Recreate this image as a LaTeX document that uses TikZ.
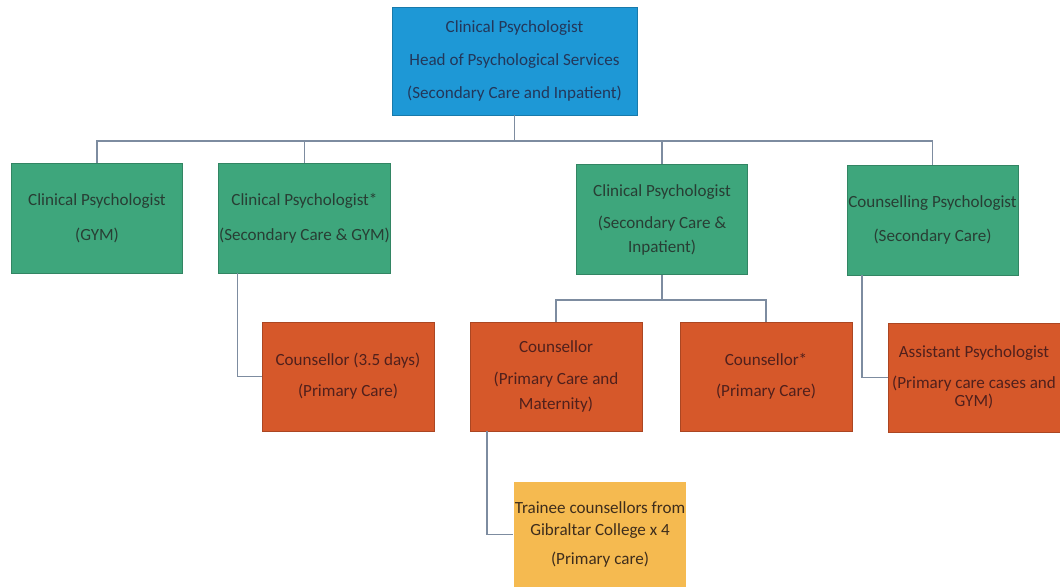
\documentclass[tikz,border=0pt]{standalone}
\usepackage{fontspec}
\setmainfont{Carlito}
\definecolor{headblue}{RGB}{30,152,214}
\definecolor{staffgreen}{RGB}{62,166,124}
\definecolor{counsorange}{RGB}{214,88,42}
\definecolor{traineeyellow}{RGB}{245,186,80}
\definecolor{linkgrey}{RGB}{125,140,160}

\begin{document}
\begin{tikzpicture}[x=0.75pt,y=0.75pt,yscale=-1,xscale=1,
  box/.style={rectangle, align=center, inner sep=0.75pt, line width=0.6pt, font=\fontsize{12.8}{15.5}\selectfont},
  headbox/.style={box, fill=headblue, draw=headblue!80!black, text={rgb,255:red,35;green,55;blue,90}, minimum width=183.75pt, minimum height=81pt},
  greenbox/.style={box, fill=staffgreen, draw=staffgreen!80!black, text={rgb,255:red,40;green,62;blue,52}, minimum width=128.25pt, minimum height=82.5pt},
  orangebox/.style={box, fill=counsorange, draw=counsorange!80!black, text={rgb,255:red,80;green,32;blue,28}, minimum width=129pt, minimum height=81.75pt},
  yellowbox/.style={box, fill=traineeyellow, text={rgb,255:red,62;green,45;blue,28}, minimum width=129pt, minimum height=78.75pt},
  link/.style={draw=linkgrey, line width=0.8pt}
]
\useasboundingbox (0,0) rectangle (1060,587);

%Shape: Rectangle [head]
\node [headbox] (head) at (514.5,61) {Clinical Psychologist\\[9pt]Head of Psychological Services\\[9pt](Secondary Care and Inpatient)};

%Shape: Rectangle [second row]
\node [greenbox] (gym) at (97,218) {Clinical Psychologist\\[10.5pt](GYM)};
\node [greenbox] (clinsec) at (304.5,218) {Clinical Psychologist*\\[10.5pt](Secondary Care \& GYM)};
\node [greenbox] (clinin) at (662,219.5) {Clinical Psychologist\\[8.5pt](Secondary Care \&\\[2.5pt]Inpatient)};
\node [greenbox] (counpsy) at (932.5,220) {Counselling Psychologist\\[10.5pt](Secondary Care)};

%Shape: Rectangle [third row]
\node [orangebox] (counsdays) at (348,376.5) {Counsellor (3.5 days)\\[7.75pt](Primary Care)};
\node [orangebox] (counsmat) at (556,376.5) {Counsellor\\[8.5pt](Primary Care and\\[3pt]Maternity)};
\node [orangebox] (counsprim) at (766,376.5) {Counsellor*\\[7.75pt](Primary Care)};
\node [orangebox] (assist) at (974,377.5) {Assistant Psychologist\\[7.5pt](Primary care cases and\\[-2pt]GYM)};

%Shape: Rectangle [trainees]
\node [yellowbox] (trainee) at (600,534.5) {Trainee counsellors from\\[1pt]Gibraltar College x 4\\[6pt](Primary care)};

%Straight Lines [connectors]
\coordinate (bus) at (514.5,141);
\coordinate (cbus) at (662,300);
\draw [link] (head.south) -- (bus);
\draw [link] (gym.north) |- (bus) -| (counpsy.north);
\draw [link] (clinsec.north) -- (clinsec.north |- bus);
\draw [link] (clinin.north) -- (clinin.north |- bus);
\draw [link] ([xshift=-50.6pt]clinsec.south) |- (counsdays.west);
\draw [link] (clinin.south) -- (cbus);
\draw [link] (counsmat.north) |- (cbus) -| (counsprim.north);
\draw [link] ([xshift=-52.9pt]counpsy.south) |- (assist.west);
\draw [link] ([xshift=-51.75pt]counsmat.south) |- (trainee.west);

\end{tikzpicture}
\end{document}
